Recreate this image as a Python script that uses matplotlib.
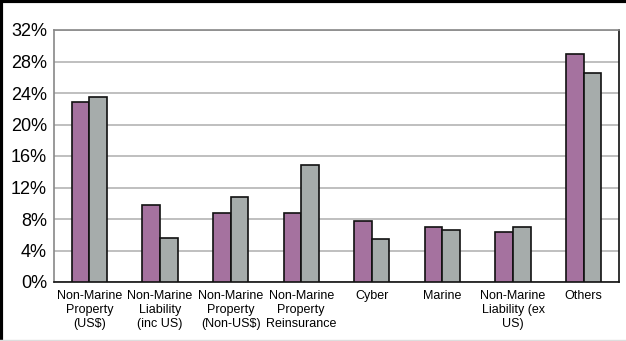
import matplotlib
matplotlib.use("Agg")
import matplotlib.pyplot as plt
import numpy as np
from matplotlib.lines import Line2D

categories = ["Non-Marine\nProperty\n(US$)", "Non-Marine\nLiability\n(inc US)",
              "Non-Marine\nProperty\n(Non-US$)", "Non-Marine\nProperty\nReinsurance",
              "Cyber", "Marine", "Non-Marine\nLiability (ex\nUS)", "Others"]
series_a = [22.8, 9.8, 8.8, 8.8, 7.7, 7.0, 6.4, 28.9]
series_b = [23.5, 5.6, 10.8, 14.8, 5.5, 6.6, 7.0, 26.6]
yticks = [0, 4, 8, 12, 16, 20, 24, 28, 32]

plt.rcParams['font.family'] = ['Liberation Sans', 'DejaVu Sans']

fig = plt.figure(figsize=(6.26, 3.41), dpi=100)
ax = fig.add_axes([54/626, 1-282/341, (619-54)/626, (282-30)/341])

x = np.arange(len(categories))
w = 0.25
ax.bar(x - w/2, series_a, w, color="#A5729F", edgecolor="#111111", linewidth=1.2, zorder=3)
ax.bar(x + w/2, series_b, w, color="#A6ACAB", edgecolor="#111111", linewidth=1.2, zorder=3)

ax.set_xlim(-0.5, len(categories) - 0.5)
ax.set_ylim(0, 32)
ax.set_yticks(yticks)
ax.set_yticklabels([f"{v}%" for v in yticks], fontsize=13)
ax.set_xticks(x)
ax.set_xticklabels(categories, fontsize=9, linespacing=1.2)
ax.tick_params(axis='both', length=0)
ax.tick_params(axis='y', pad=5)
ax.tick_params(axis='x', pad=6)
ax.grid(axis='y', color="#B4B4B4", linewidth=1.2, zorder=0)

ax.spines['left'].set_color("#888888")
ax.spines['top'].set_color("#888888")
ax.spines['right'].set_color("#111111")
ax.spines['bottom'].set_color("#111111")
for s in ax.spines.values():
    s.set_linewidth(1.2)

# figure frame: thick black top and left, light bottom line
fig.add_artist(Line2D([0, 1], [1 - 1/341, 1 - 1/341], transform=fig.transFigure, color="black", linewidth=3))
fig.add_artist(Line2D([1/626, 1/626], [0, 1], transform=fig.transFigure, color="black", linewidth=3))
fig.add_artist(Line2D([0, 1], [1/341, 1/341], transform=fig.transFigure, color="#DDDDDD", linewidth=1))

fig.savefig("out.png", dpi=100)
